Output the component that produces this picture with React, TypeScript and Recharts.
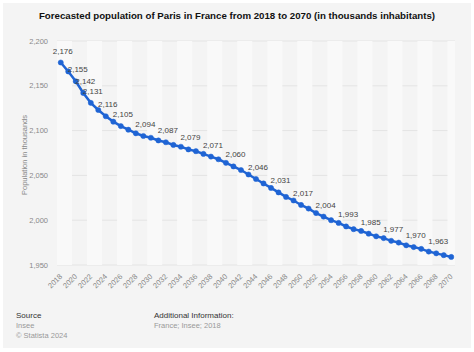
import { LineChart, Line, XAxis, YAxis, CartesianGrid, ReferenceArea, LabelList } from "recharts";

const years = [
  2018, 2019, 2020, 2021, 2022, 2023, 2024, 2025, 2026, 2027, 2028, 2029, 2030, 2031, 2032, 2033, 2034, 2035,
  2036, 2037, 2038, 2039, 2040, 2041, 2042, 2043, 2044, 2045, 2046, 2047, 2048, 2049, 2050, 2051, 2052, 2053,
  2054, 2055, 2056, 2057, 2058, 2059, 2060, 2061, 2062, 2063, 2064, 2065, 2066, 2067, 2068, 2069, 2070,
];
const population = [
  2176, 2166, 2155, 2142, 2131, 2123, 2116, 2110, 2105, 2101, 2097, 2094, 2092, 2089, 2087, 2084, 2082, 2079,
  2077, 2074, 2071, 2068, 2064, 2060, 2056, 2051, 2046, 2041, 2036, 2031, 2026, 2022, 2017, 2013, 2008, 2004,
  2000, 1997, 1993, 1990, 1988, 1985, 1982, 1980, 1977, 1975, 1972, 1970, 1968, 1965, 1963, 1961, 1959,
];
// years whose value is printed above the point
const labelledYears = [
  2018, 2020, 2021, 2022, 2024, 2026, 2029, 2032, 2035, 2038, 2041, 2044, 2047, 2050, 2053, 2056, 2059, 2062,
  2065, 2068,
];
const xTicks = [
  2018, 2020, 2022, 2024, 2026, 2028, 2030, 2032, 2034, 2036, 2038, 2040, 2042, 2044, 2046, 2048, 2050, 2052,
  2054, 2056, 2058, 2060, 2062, 2064, 2066, 2068, 2070,
];
const yTicks = [1950, 2000, 2050, 2100, 2150, 2200];

const data = years.map((year, i) => ({ year, value: population[i] }));

const FONT = '"Liberation Sans", Arial, sans-serif';
const BLUE = "#1f64d4";

const fmt = (v: number) => v.toLocaleString("en-US");

function XTick({ x, y, payload }: any) {
  return (
    <text
      x={x + 2}
      y={y + 12}
      transform={`rotate(-45, ${x + 2}, ${y + 12})`}
      textAnchor="end"
      fontSize={7.5}
      fill="#888"
      fontFamily={FONT}
    >
      {payload.value}
    </text>
  );
}

function PointLabel({ x, y, value, index }: any) {
  if (!labelledYears.includes(years[index])) return null;
  return (
    <text x={x + 2} y={y - 9} textAnchor="middle" fontSize={8} fill="#444" fontFamily={FONT}>
      {fmt(value)}
    </text>
  );
}

// alternating 2-year background bands
const bands = xTicks.filter((_, i) => i % 2 === 0).map((t) => [t - 0.5, Math.min(t + 1.5, 2070.5)]);

export default function App() {
  return (
    <div style={{ position: "absolute", left: 0, top: 0, width: 474, height: 352, background: "#fff", fontFamily: FONT }}>
      <div style={{ position: "absolute", left: 3, top: 3, width: 468, height: 345, background: "#f4f4f4" }} />
      <div
        style={{
          position: "absolute",
          left: 0,
          top: 10,
          width: 474,
          textAlign: "center",
          fontSize: 9.7,
          fontWeight: "bold",
          color: "#111",
        }}
      >
        Forecasted population of Paris in France from 2018 to 2070 (in thousands inhabitants)
      </div>
      <div style={{ position: "absolute", left: 0, top: 0 }}>
        <LineChart width={474} height={352} data={data} margin={{ top: 41, right: 19, left: 0, bottom: 47 }}>
          {bands.map(([a, b]) => (
            <ReferenceArea key={a} x1={a} x2={b} y1={1950} y2={2200} fill="#f9f9f9" fillOpacity={1} stroke="none" />
          ))}
          <CartesianGrid vertical={false} stroke="#e4e4e4" />
          <XAxis
            dataKey="year"
            type="number"
            domain={[2017.5, 2070.5]}
            ticks={xTicks}
            interval={0}
            axisLine={false}
            tickLine={false}
            tickSize={0}
            tickMargin={0}
            height={40}
            tick={<XTick />}
          />
          <YAxis
            domain={[1950, 2200]}
            ticks={yTicks}
            width={57}
            axisLine={false}
            tickLine={false}
            tickSize={0}
            tickMargin={9}
            tickFormatter={fmt}
            tick={{ fontSize: 7.5, fill: "#888", fontFamily: FONT }}
          />
          <Line
            type="linear"
            dataKey="value"
            stroke={BLUE}
            strokeWidth={2.5}
            dot={{ r: 2.6, fill: BLUE, stroke: BLUE, strokeWidth: 0.5 }}
            isAnimationActive={false}
          >
            <LabelList dataKey="value" content={<PointLabel />} />
          </Line>
        </LineChart>
      </div>
      <div
        style={{
          position: "absolute",
          left: 24,
          top: 155,
          transform: "translate(-50%, -50%) rotate(-90deg)",
          fontSize: 7.5,
          color: "#888",
          whiteSpace: "nowrap",
        }}
      >
        Population in thousands
      </div>
      <div style={{ position: "absolute", left: 16, top: 312, fontSize: 7.5, lineHeight: "7px", color: "#999" }}>
        <div style={{ color: "#333", fontSize: 8 }}>Source</div>
        <div style={{ marginTop: 3 }}>Insee</div>
        <div style={{ marginTop: 3 }}>© Statista 2024</div>
      </div>
      <div style={{ position: "absolute", left: 154, top: 312, fontSize: 7.5, lineHeight: "7px", color: "#999" }}>
        <div style={{ color: "#333", fontSize: 8 }}>Additional Information:</div>
        <div style={{ marginTop: 3 }}>France; Insee; 2018</div>
      </div>
    </div>
  );
}
